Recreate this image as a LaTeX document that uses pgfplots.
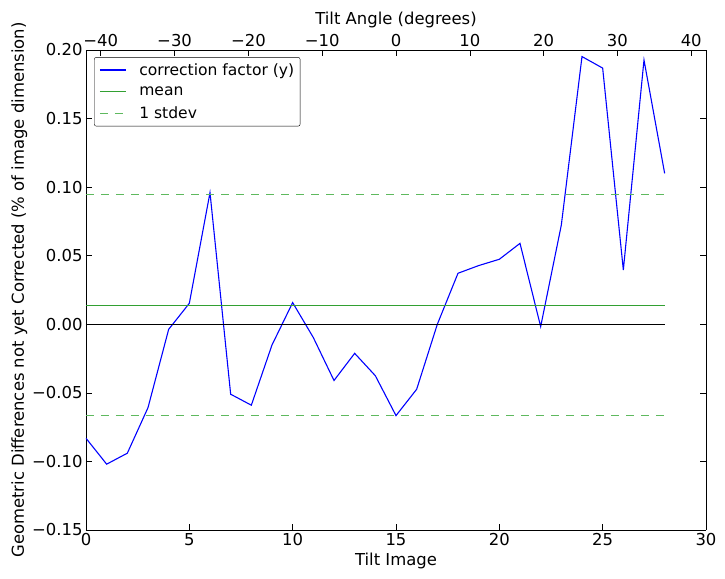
\documentclass[border=0pt]{standalone}
\usepackage{pgfplots}
\pgfplotsset{compat=1.18}
\usepackage{fontspec}
\setmainfont{DejaVu Sans}
\usetikzlibrary{calc}
\definecolor{meang}{RGB}{50,160,50}
\definecolor{sdg}{RGB}{95,185,95}
\begin{document}
\begin{tikzpicture}[font=\fontsize{16.5}{19}\selectfont]
\pgfplotstableread{
x y
0 -0.0831
1 -0.1020
2 -0.0940
3 -0.0608
4 -0.0037
5 0.0153
6 0.0960
7 -0.0510
8 -0.0590
9 -0.0151
10 0.0158
11 -0.0097
12 -0.0410
13 -0.0212
14 -0.0375
15 -0.0666
16 -0.0474
17 0.0000
18 0.0372
19 0.0428
20 0.0474
21 0.0590
22 -0.0017
23 0.0724
24 0.1952
25 0.1868
26 0.0396
27 0.1927
28 0.1100
}\cf
\begin{axis}[name=a,
  scale only axis, width=620bp, height=480bp,
  xmin=0, xmax=30, ymin=-0.15, ymax=0.20,
  axis x line*=bottom,
  xtick={0,5,...,30},
  ytick={-0.15,-0.10,-0.05,0,0.05,0.10,0.15,0.20},
  yticklabels={−0.15,−0.10,−0.05,0.00,0.05,0.10,0.15,0.20},
  xticklabels={0,5,10,15,20,25,30},
  tick align=inside, major tick length=6bp,
  tick style={black, line width=0.6pt},
  axis line style={line width=0.9pt},
  ytick pos=both,
  xlabel={Tilt Image},
  ylabel={Geometric Differences not yet Corrected (\% of image dimension)},
  xlabel style={yshift=0bp},
  ylabel style={yshift=-2bp},
  legend style={at={(0.013,0.985)}, anchor=north west, rounded corners=2pt, inner xsep=5pt, inner ysep=5pt,
    font=\fontsize{15.6}{18}\selectfont, row sep=8bp,
    nodes={inner sep=1pt}},
  legend cell align=left,
  legend image code/.code={\draw[#1] (0bp,0bp) -- (26bp,0bp);},
  legend style={/tikz/every odd column/.append style={column sep=12bp}},
]
\addplot[blue, line width=1.1pt] table[x=x,y=y]{\cf};
\addlegendentry{correction factor (y)}
\addplot[meang, line width=1.1pt] coordinates {(0,0.0138) (28,0.0138)};
\addlegendentry{mean}
\addplot[sdg, line width=1.1pt, dash pattern=on 8bp off 7bp] coordinates {(0,0.0944) (28,0.0944)};
\addlegendentry{1 stdev}
\addplot[sdg, line width=1.1pt, dash pattern=on 8bp off 7bp, forget plot] coordinates {(0,-0.0666) (28,-0.0666)};
\addplot[black, line width=1.1pt, forget plot] coordinates {(0,0) (28,0)};
\end{axis}
\begin{axis}[
  scale only axis, width=620bp, height=480bp,
  xmin=-42, xmax=42, ymin=0, ymax=1,
  axis x line*=top, axis y line=none,
  xtick={-40,-30,...,40},
  xticklabels={−40,−30,−20,−10,0,10,20,30,40},
  tick align=inside, major tick length=6bp,
  tick style={black, line width=0.6pt},
  axis line style={line width=0.9pt},
  xlabel={Tilt Angle (degrees)},
  xlabel style={yshift=-1bp},
]
\addplot[draw=none] coordinates {(0,0)};
\end{axis}
\pgfresetboundingbox
\path ($(a.south west)+(-86bp,-49bp)$) rectangle ($(a.north east)+(19bp,50bp)$);
\end{tikzpicture}
\end{document}
